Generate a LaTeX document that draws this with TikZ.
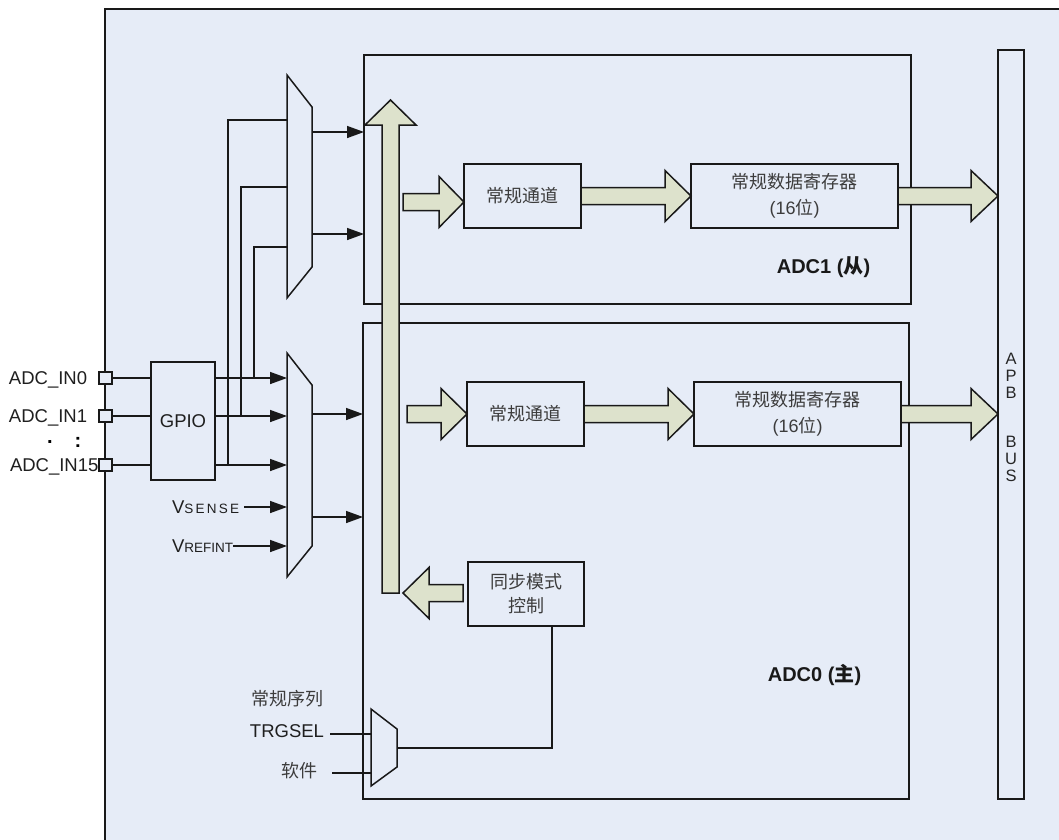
\documentclass[tikz,border=0pt]{standalone}
\usepackage{fontspec}
\setmainfont{Liberation Sans}
\newfontfamily\cjk{Noto Sans CJK SC}
\usetikzlibrary{arrows.meta,calc}
\definecolor{bg}{RGB}{230,236,247}
\definecolor{fatfill}{RGB}{221,226,204}
\definecolor{ln}{RGB}{25,25,25}
\definecolor{txt}{RGB}{60,60,60}
\newcommand\fatH[3]{%
  \draw[fat] let \p1=(#1), \p2=(#2), \p3=($(#2)+(#3,0)$) in
   (\x1,\y2+8.5pt) -- (\x3,\y2+8.5pt) -- (\x3,\y2+25.5pt) -- (\x2,\y2)
   -- (\x3,\y2-25.5pt) -- (\x3,\y2-8.5pt) -- (\x1,\y2-8.5pt) -- cycle;}
\begin{document}
\begin{tikzpicture}[x=1pt,y=-1pt,
  every node/.style={inner sep=0pt, outer sep=0pt},
  blk/.style={draw=ln, line width=1.5pt, fill=bg},
  box/.style={blk, minimum height=64pt, font=\fontsize{18}{26}\selectfont, text=txt, align=center},
  wire/.style={draw=ln, line width=1.5pt},
  sig/.style={wire, -{Triangle[length=17pt,width=12pt]}},
  fat/.style={draw=ln, line width=1.5pt, fill=fatfill, line join=miter},
  lbl/.style={font=\fontsize{18.5}{22}\selectfont, text=black!88, text height=13.2pt, text depth=0pt},
  clbl/.style={font=\fontsize{18}{22}\selectfont\cjk, text=txt},
  pad/.style={blk, minimum width=13pt, minimum height=12pt},
]
\useasboundingbox (0,0) rectangle (1059,839);
\clip (0,0) rectangle (1059,839);
\fill[white] (0,0) rectangle (1059,839);
\node[blk, anchor=north west, minimum width=1000pt, minimum height=900pt] (frame) at (105,9) {};

% ADC blocks and bus
\node[blk, anchor=north west, minimum width=547pt, minimum height=249pt] (adc1) at (364,55) {};
\node[blk, anchor=north west, minimum width=546pt, minimum height=476pt] (adc0) at (363,323) {};
\node[blk, anchor=north west, minimum width=26pt, minimum height=749pt] (apb) at (998,50) {};
\node[font=\fontsize{16.5}{17}\selectfont, align=center, text=black!85] (apbt) at (1011,417) {A\\P\\B\\[32pt]B\\U\\S};

\node[font=\fontsize{20}{22}\selectfont\bfseries, text=black!90] (adc1l) at (823.5,267) {ADC1 ({\cjk 从})};
\node[font=\fontsize{20}{22}\selectfont\bfseries, text=black!90] (adc0l) at (814.5,675) {ADC0 ({\cjk 主})};

% inner boxes
\node[box, minimum width=117pt] (ch1) at (522.5,196) {{\cjk 常规通道}};
\node[box, minimum width=207pt] (reg1) at (794.5,196) {{\cjk 常规数据寄存器}\\(16{\cjk 位})};
\node[box, minimum width=117pt] (ch0) at (525.5,414) {{\cjk 常规通道}};
\node[box, minimum width=207pt] (reg0) at (797.5,414) {{\cjk 常规数据寄存器}\\(16{\cjk 位})};
\node[box, minimum width=116pt, font=\fontsize{18}{24}\selectfont] (sync) at (526,594) {{\cjk 同步模式}\\{\cjk 控制}};

% GPIO and pads
\node[blk, minimum width=64pt, minimum height=118pt, font=\fontsize{18.5}{22}\selectfont, text=black!88] (gpio) at (183,421) {GPIO};
\node[pad] (pad0) at (105.5,378) {};
\node[pad] (pad1) at (105.5,416) {};
\node[pad] (pad15) at (105.5,465) {};
\node[lbl, anchor=west] (lin0) at (9,378) {ADC\_IN0};
\node[lbl, anchor=west] (lin1) at (9,416) {ADC\_IN1};
\node[lbl, anchor=west] (lin15) at (10,465) {ADC\_IN15};
\node[font=\fontsize{20}{22}\selectfont\bfseries] (dot1) at (50,442) {.};
\node[font=\fontsize{20}{22}\selectfont\bfseries] (dot2) at (78,442) {:};

\node[lbl, anchor=west, inner xsep=0pt] (vs) at (172,507) {V{\fontsize{13.5}{13}\selectfont S\,E\,N\,S\,E}};
\node[lbl, anchor=west] (vr) at (172,546) {V{\fontsize{13.5}{13}\selectfont REFINT}};

% muxes
\draw[blk] (287,75) -- (312,107) -- (312,267) -- (287,298) -- cycle;
\draw[blk] (287,353) -- (312,385) -- (312,546) -- (287,577) -- cycle;
\draw[blk] (371,709) -- (397,729) -- (397,767) -- (371,786) -- cycle;
\coordinate (m1a) at (287,120); \coordinate (m1b) at (287,187); \coordinate (m1c) at (287,247);
\coordinate (m1x) at (312,132); \coordinate (m1y) at (312,234);
\coordinate (m2a) at (287,378); \coordinate (m2b) at (287,416); \coordinate (m2c) at (287,465);
\coordinate (m2d) at (287,507); \coordinate (m2e) at (287,546);
\coordinate (m2x) at (312,414); \coordinate (m2y) at (312,517);
\coordinate (m3a) at (371,734); \coordinate (m3b) at (371,773); \coordinate (m3x) at (397,748);
\coordinate (j0) at (254,378); \coordinate (j1) at (241,416); \coordinate (j15) at (228,465);

% wires
\draw[wire] (pad0.east) -- (pad0.east -| gpio.west);
\draw[wire] (pad1.east) -- (pad1.east -| gpio.west);
\draw[wire] (pad15.east) -- (pad15.east -| gpio.west);
\draw[sig] (gpio.east |- m2a) -- (m2a);
\draw[sig] (gpio.east |- m2b) -- (m2b);
\draw[sig] (gpio.east |- m2c) -- (m2c);
\draw[wire] (j0) |- (m1c);
\draw[wire] (j1) |- (m1b);
\draw[wire] (j15) |- (m1a);
\draw[sig] ([xshift=5pt]vs.east) -- (m2d);
\draw[sig] (vr.east) -- (m2e);
\draw[sig] (m1x) -- (m1x -| adc1.west);
\draw[sig] (m1y) -- (m1y -| adc1.west);
\draw[sig] (m2x) -- (m2x -| adc0.west);
\draw[sig] (m2y) -- (m2y -| adc0.west);

% trigger
\node[clbl] (seq) at (287,699) {常规序列};
\node[lbl] (trg) at (287,731) {TRGSEL};
\node[clbl] (sw) at (299,771) {软件};
\coordinate (ti1) at (330,734); \coordinate (ti2) at (332,773);
\draw[wire] (ti1) -- (m3a);
\draw[wire] (ti2) -- (m3b);
\draw[wire] ([xshift=26pt]sync.south) |- (m3x);

% fat arrows
\coordinate (b1) at (403,202);
\coordinate (b0) at (407,414);
\fatH{b1}{ch1.west |- b1}{-25}
\fatH{ch1.east}{reg1.west}{-26}
\fatH{reg1.east}{apb.west |- reg1.east}{-27}
\fatH{b0}{ch0.west}{-26}
\fatH{ch0.east}{reg0.west}{-26}
\fatH{reg0.east}{apb.west |- reg0.east}{-27}
\coordinate (sy) at (463,593); \coordinate (syt) at (403,593);
\fatH{sy}{syt}{26}

% big bus arrow
\coordinate (busbot) at (390.5,593); \coordinate (bustop) at (390.5,100);
\draw[fat] ($(busbot)+(-8.5,0)$) -- ($(bustop)+(-8.5,25)$) -- ($(bustop)+(-25.5,25)$) -- (bustop)
  -- ($(bustop)+(25.5,25)$) -- ($(bustop)+(8.5,25)$) -- ($(busbot)+(8.5,0)$) -- cycle;
\end{tikzpicture}
\end{document}
